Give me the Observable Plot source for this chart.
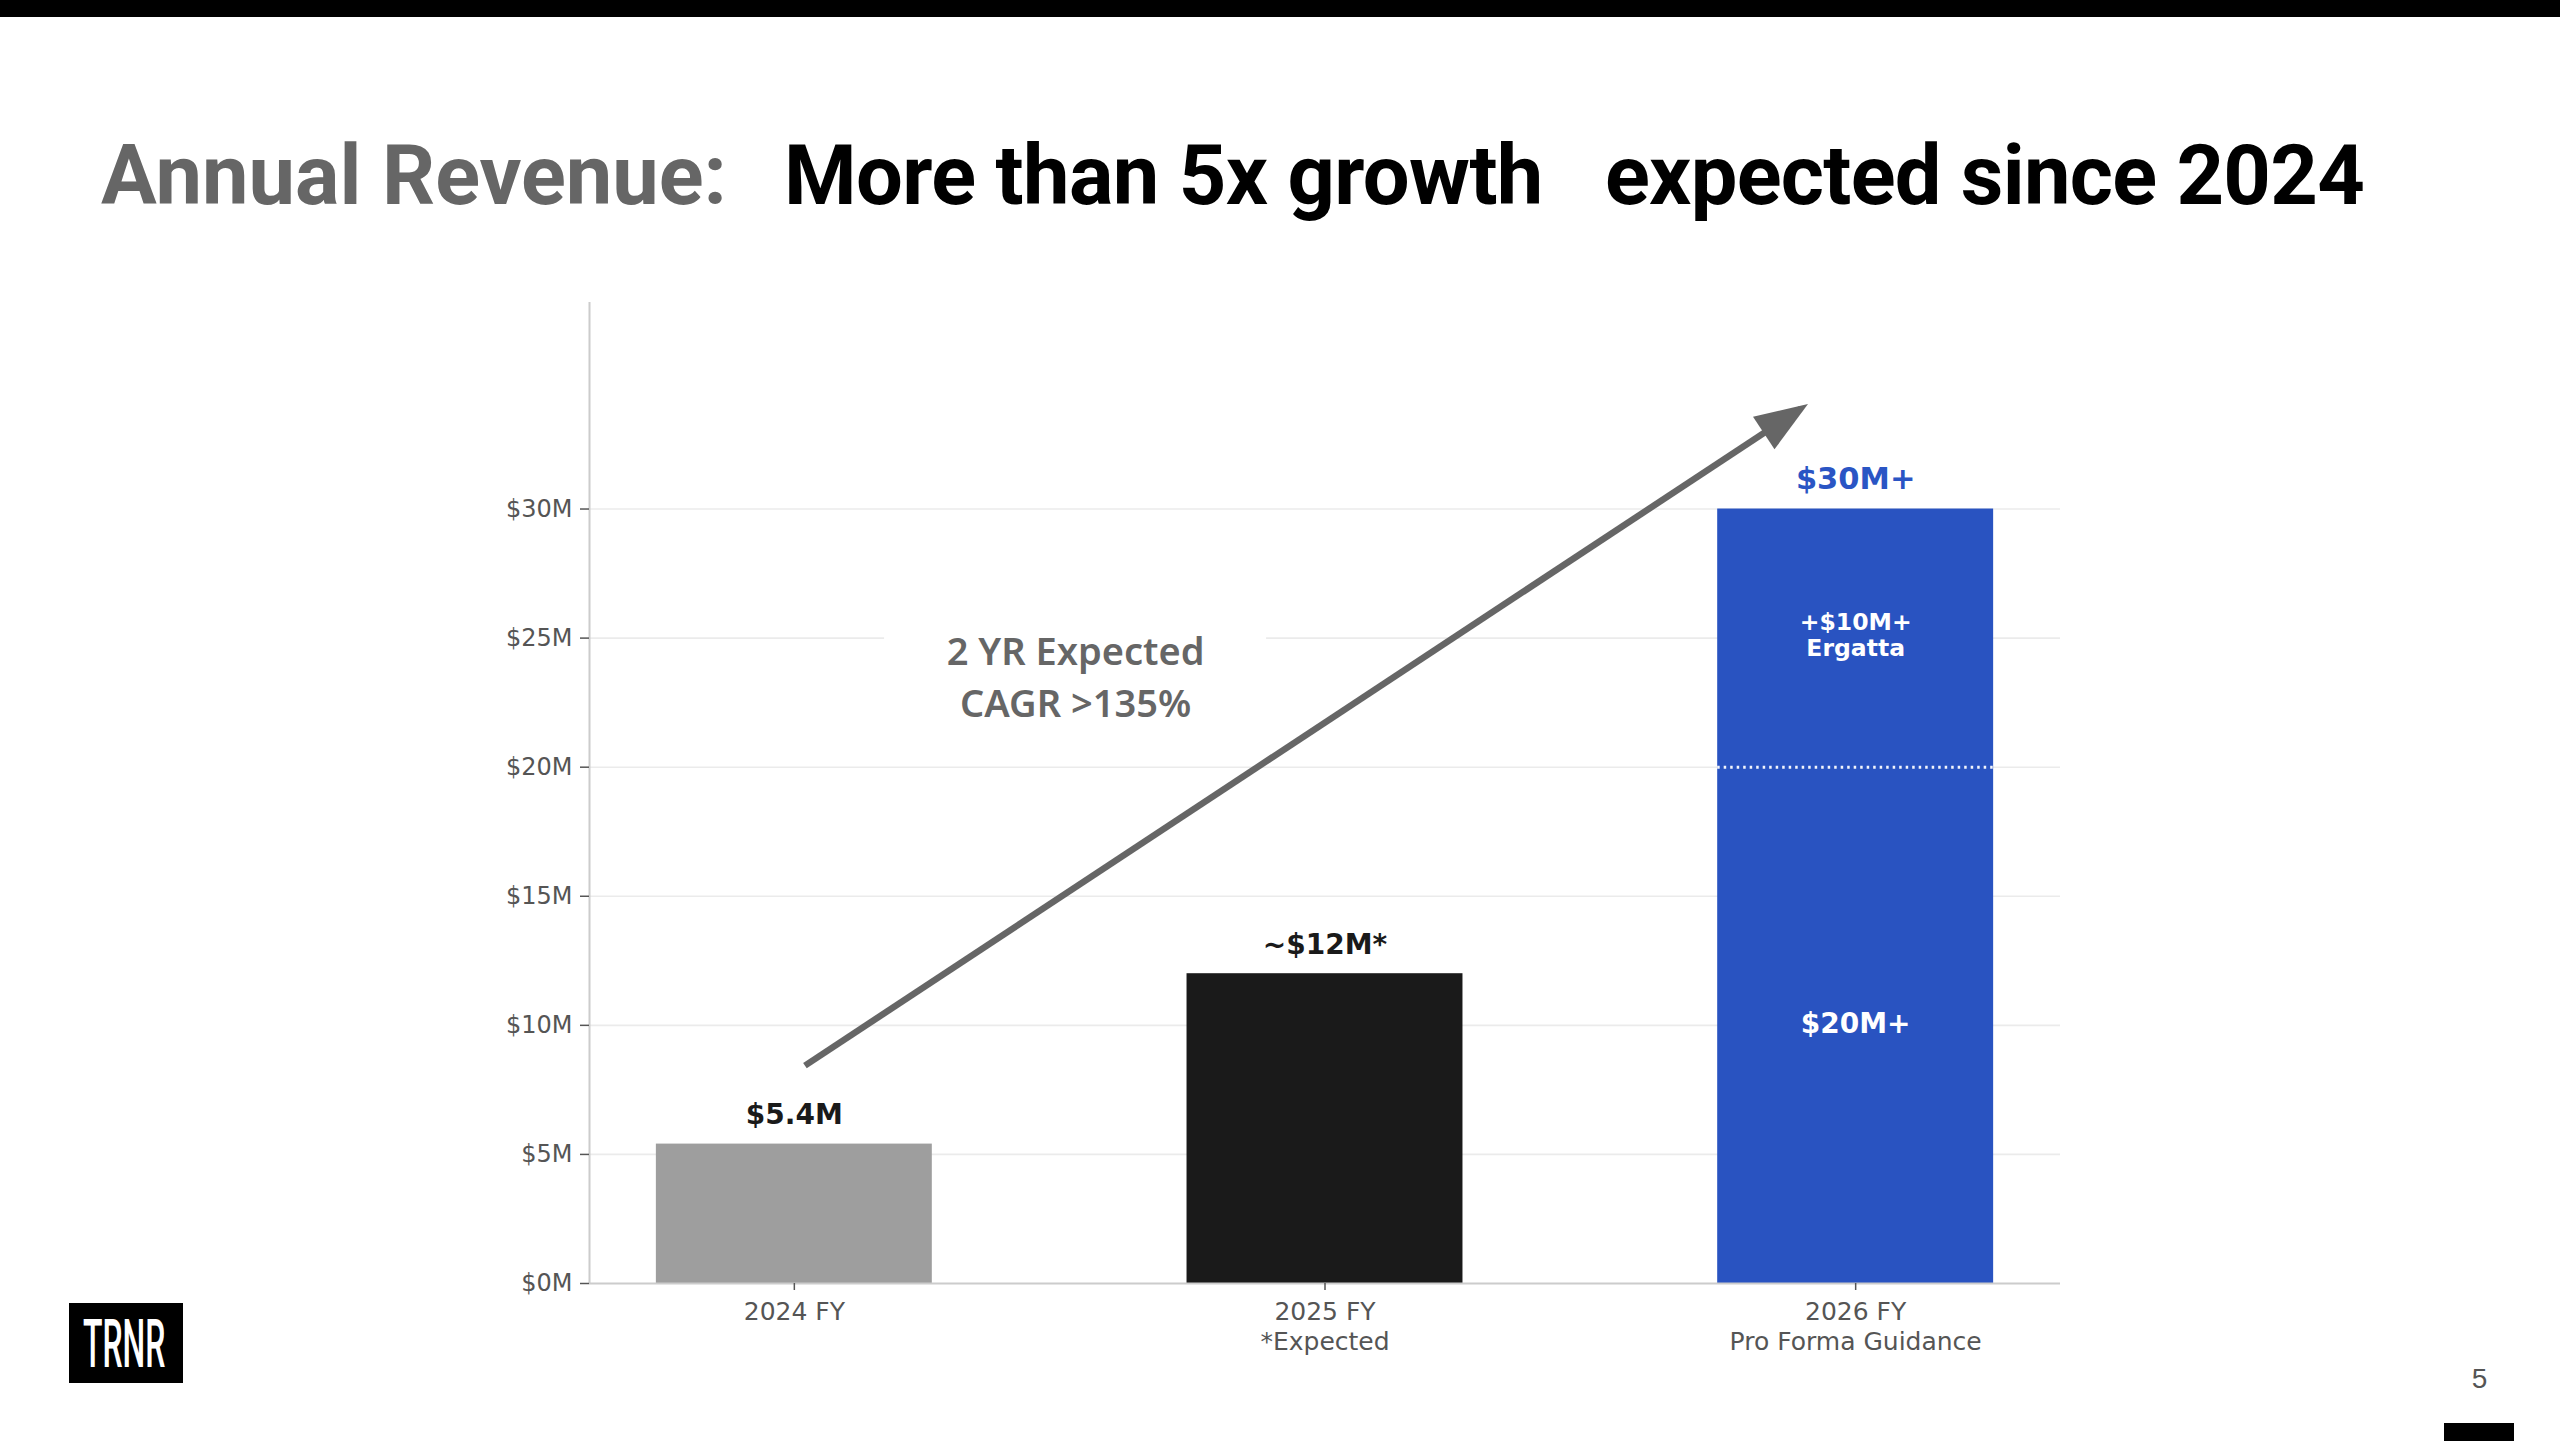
<!DOCTYPE html>
<html>
<head>
<meta charset="utf-8">
<script src="https://cdn.jsdelivr.net/npm/d3@7"></script>
<script src="https://cdn.jsdelivr.net/npm/@observablehq/plot@0.6"></script>
<style>
  html, body { margin: 0; padding: 0; background: #fff; }
  body { width: 2560px; height: 1441px; overflow: hidden; position: relative; }
  #header { position: absolute; left: 0; top: 0; }
  #chart { position: absolute; left: 400px; top: 250px; }
  #logo { position: absolute; left: 69px; top: 1303px; }
  #footer { position: absolute; left: 2420px; top: 1350px; }
</style>
</head>
<body>
<svg id="header" width="2560" height="250">
  <rect x="0" y="0" width="2560" height="17" fill="#000"></rect>
  <text x="101" y="204" font-family="Roboto" font-weight="700" font-size="83" fill="#666666">Annual Revenue:</text>
  <text x="784" y="204" font-family="Roboto" font-weight="700" font-size="83" letter-spacing="-0.6" fill="#000000">More than 5x growth</text>
  <text x="1605" y="204" font-family="Roboto" font-weight="700" font-size="83" letter-spacing="-0.7" fill="#000000">expected since 2024</text>
</svg>
<div id="chart"></div>
<svg id="logo" width="114" height="80">
  <rect x="0" y="0" width="114" height="80" fill="#000"></rect>
  <text x="14" y="31.07" transform="scale(1,2.06)" font-family="Roboto" font-weight="500" font-size="32" fill="#fff">TRNR</text>
</svg>
<svg id="footer" width="140" height="91">
  <text x="59.5" y="38" text-anchor="middle" font-family="Liberation Sans" font-size="28" fill="#555">5</text>
  <rect x="24" y="73" width="70" height="18" fill="#000"></rect>
</svg>
<script>
// ---- data ----
const years = ["2024 FY", "2025 FY", "2026 FY"];
const yearNotes = ["", "*Expected", "Pro Forma Guidance"];
const revenue = [5.4, 12, 30];
const barLabels = ["$5.4M", "~$12M*", "$30M+"];
const segmentStart = [0, 20];
const segmentEnd = [20, 30];
const segmentLabels = ["$20M+", "+$10M+\nErgatta"];
const yTicks = [0, 5, 10, 15, 20, 25, 30];
const arrowFrom = [0.02, 8.44];
const arrowTo = [1.896, 33.88];
const cagrText = "2 YR Expected\nCAGR >135%";
const cagrAt = [0.53, 23.6];

// ---- styles ----
const barFill = ["#9e9e9e", "#1a1a1a", "#2953c1"];
const blue = "#2a55c4";
const arrowGray = "#666666";
const W = 1750, H = 1115, ML = 189, MR = 90, MT = 52, MB = 82;
const xDomain = [-0.386, 2.386], yDomain = [0, 38];
const barWidth = 0.52;

const bars = years.map((y, i) => ({i, value: revenue[i], label: barLabels[i]}));
const proForma = years.length - 1;
const segments = segmentStart.map((s, k) => ({start: s, end: segmentEnd[k], label: segmentLabels[k]}));

// arrow head angle (screen space) from scale geometry
const kx = (W - ML - MR) / (xDomain[1] - xDomain[0]);
const ky = (H - MT - MB) / (yDomain[1] - yDomain[0]);
const dxp = (arrowTo[0] - arrowFrom[0]) * kx;
const dyp = -(arrowTo[1] - arrowFrom[1]) * ky;
const headAngle = Math.atan2(dxp, -dyp) * 180 / Math.PI;
const headSymbol = {
  draw(ctx) {
    ctx.moveTo(0, -9);
    ctx.lineTo(19.5, 44);
    ctx.lineTo(-19.5, 44);
    ctx.closePath();
  }
};

const chart = Plot.plot({
  width: W, height: H,
  marginLeft: ML, marginRight: MR, marginTop: MT, marginBottom: MB,
  style: {fontFamily: "DejaVu Sans", background: "white", overflow: "visible"},
  x: {type: "linear", domain: xDomain},
  y: {domain: yDomain},
  color: {type: "identity"},
  marks: [
    Plot.ruleY(yTicks.filter(d => d > 0), {stroke: "#ebebeb", strokeWidth: 1.6}),
    Plot.rect([cagrAt], {x1: d => d[0], x2: d => d[0], y1: d => d[1], y2: d => d[1],
      insetLeft: -191, insetRight: -191, insetTop: -65, insetBottom: -65, fill: "white"}),
    Plot.rect(bars, {x1: d => d.i - barWidth / 2, x2: d => d.i + barWidth / 2, y1: 0, y2: d => d.value,
      fill: d => barFill[d.i]}),
    Plot.ruleY([segmentEnd[0]], {x1: proForma - barWidth / 2, x2: proForma + barWidth / 2,
      stroke: "#f2f5fc", strokeWidth: 3, strokeDasharray: "2.5,4"}),
    Plot.ruleX([xDomain[0]], {y1: yDomain[0], y2: yDomain[1], stroke: "#cccccc", strokeWidth: 2}),
    Plot.ruleY([0], {stroke: "#cccccc", strokeWidth: 2}),
    Plot.axisY(yTicks, {tickFormat: d => `$${d}M`, tickSize: 9, tickPadding: 8, fontSize: 24,
      color: "#555", strokeWidth: 1.5, label: null}),
    Plot.axisX([0, 1, 2], {tickFormat: d => years[d] + (yearNotes[d] ? "\n" + yearNotes[d] : ""),
      tickSize: 7, tickPadding: 8, fontSize: 25, lineHeight: 1.2, color: "#555", strokeWidth: 1.5, label: null}),
    Plot.text(bars.filter(d => d.i < proForma), {x: "i", y: "value", text: "label", lineAnchor: "bottom",
      dy: -20, fontSize: 28, fontWeight: "bold", fill: "#1a1a1a"}),
    Plot.text(bars.filter(d => d.i === proForma), {x: "i", y: "value", text: "label", lineAnchor: "bottom",
      dy: -20.5, fontSize: 30.5, fontWeight: "bold", fill: blue}),
    Plot.text(segments.slice(0, 1), {x: () => proForma, y: d => (d.start + d.end) / 2, text: "label",
      dy: -1, fontSize: 28, fontWeight: "bold", fill: "white"}),
    Plot.text(segments.slice(1), {x: () => proForma, y: d => (d.start + d.end) / 2, text: "label",
      dy: -3, fontSize: 23.5, fontWeight: "bold", fill: "white", lineHeight: 1.1}),
    Plot.text([cagrAt], {x: d => d[0], y: d => d[1], text: () => cagrText, fontFamily: "Noto Sans",
      fontWeight: 600, fontSize: 38, lineHeight: 1.37, fill: arrowGray}),
    Plot.link([[arrowFrom, arrowTo]], {x1: d => d[0][0], y1: d => d[0][1], x2: d => d[1][0], y2: d => d[1][1],
      stroke: arrowGray, strokeWidth: 6.5, strokeLinecap: "butt"}),
    Plot.dot([arrowTo], {x: d => d[0], y: d => d[1], symbol: headSymbol, rotate: headAngle,
      fill: arrowGray, stroke: "none"})
  ]
});
document.getElementById("chart").appendChild(chart);
</script>
</body>
</html>
